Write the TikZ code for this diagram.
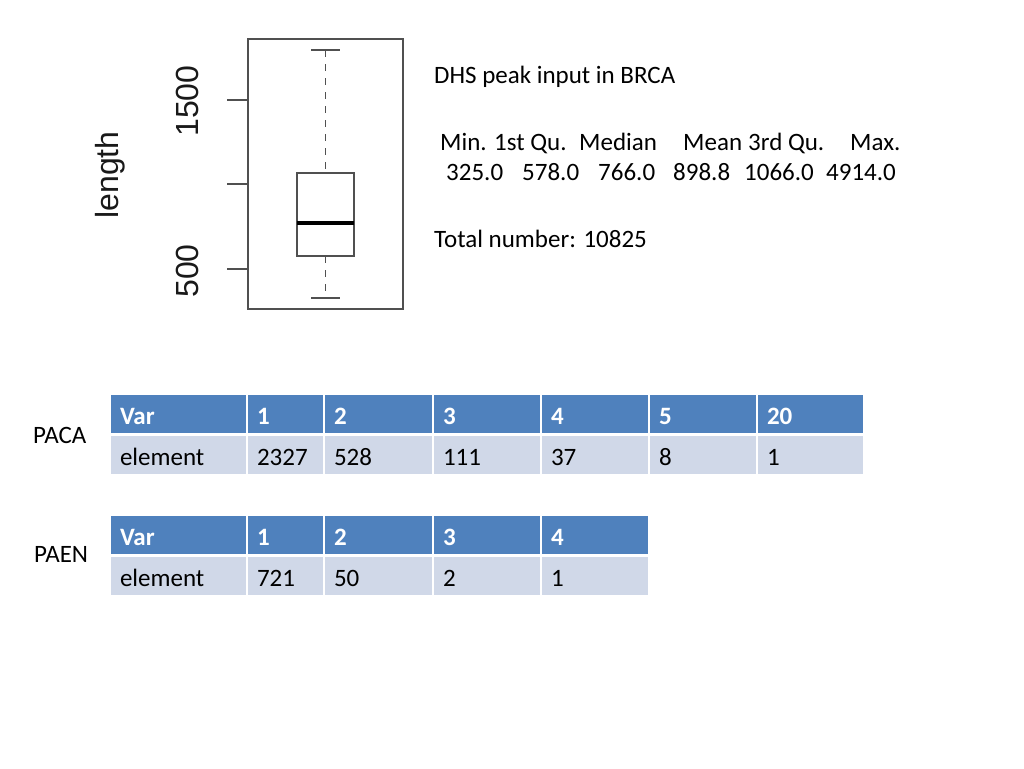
\documentclass[tikz,border=0pt]{standalone}
\usepackage{fontspec}
\setmainfont{Carlito}
\newfontfamily\plotfont{Liberation Sans}
\definecolor{headblue}{HTML}{4F81BD}
\definecolor{bodyblue}{HTML}{D0D8E8}
\definecolor{framegray}{HTML}{505050}
\tikzset{
  slidetext/.style={inner sep=0pt, anchor=base west, font=\fontsize{25}{30}\selectfont},
  plotlabel/.style={inner sep=0pt, rotate=90, font=\plotfont\fontsize{32}{36}\selectfont, text=black!90},
  cell/.style={draw=white, line width=2pt, anchor=north west, inner xsep=10pt, inner ysep=0pt,
    align=left, text height=22pt, text depth=2pt, font=\fontsize{25}{30}\selectfont},
  headcell/.style={cell, fill=headblue, text=white, font=\bfseries\fontsize{25}{30}\selectfont},
  bodycell/.style={cell, fill=bodyblue, text=black}
}
\begin{document}
\begin{tikzpicture}[x=1pt, y=-1pt]
  \useasboundingbox (0,0) rectangle (1024,768);
  % box plot
  \draw[framegray, line width=1.8pt] (248,39) rectangle (403,309);
  \draw[framegray, line width=1.5pt] (248,100) -- (248,269);
  \foreach \y in {100,184,269}
    \draw[framegray, line width=1.5pt] (227,\y) -- (248,\y);
  \node[plotlabel] (t1500) at (187,101) {1500};
  \node[plotlabel] (t500) at (187,271) {500};
  \node[plotlabel] (ylab) at (110,175) {length};
  \draw[framegray, line width=1.5pt, dash pattern=on 7pt off 7pt] (325.5,50) -- (325.5,173);
  \draw[framegray, line width=1.5pt, dash pattern=on 7pt off 7pt] (325.5,256) -- (325.5,298);
  \draw[framegray, line width=1.5pt] (311,50) -- (340,50);
  \draw[framegray, line width=1.5pt] (311,298) -- (340,298);
  \draw[framegray, line width=1.6pt] (297,173) rectangle (354,256);
  \draw[black, line width=4.5pt] (297,223) -- (354,223);
  % summary text
  \node[slidetext] (title) at (434,83) {DHS peak input in BRCA};
  \foreach \x/\t [count=\i] in {440/Min., 494/1st Qu., 579/Median, 683/Mean, 748/3rd Qu., 850/Max.}
    \node[slidetext] (stat\i) at (\x,150) {\t};
  \foreach \x/\t [count=\i] in {446/325.0, 522/578.0, 598/766.0, 673/898.8, 744/1066.0, 826/4914.0}
    \node[slidetext] (val\i) at (\x,180) {\t};
  \node[slidetext] (total) at (434,247) {Total number: 10825};
  % tables
  \node[slidetext] (paca) at (33,443) {PACA};
  \foreach \xa/\xb/\hd/\bd [count=\i] in {109/246/Var/element, 246/323/1/2327, 323/432/2/528,
      432/540/3/111, 540/648/4/37, 648/756/5/8, 756/863/20/1} {
    \pgfmathsetmacro\w{\xb-\xa}
    \pgfmathsetmacro\tw{\xb-\xa-20}
    \node[headcell, minimum width=\w pt, minimum height=40pt, text width=\tw pt] (paca-h\i) at (\xa,393) {\hd};
    \node[bodycell, minimum width=\w pt, minimum height=40pt, text width=\tw pt] (paca-b\i) at (\xa,434) {\bd};
  }
  \node[slidetext] (paen) at (34,562) {PAEN};
  \foreach \xa/\xb/\hd/\bd [count=\i] in {109/246/Var/element, 246/323/1/721, 323/432/2/50,
      432/540/3/2, 540/648/4/1} {
    \pgfmathsetmacro\w{\xb-\xa}
    \pgfmathsetmacro\tw{\xb-\xa-20}
    \node[headcell, minimum width=\w pt, minimum height=40pt, text width=\tw pt] (paen-h\i) at (\xa,514) {\hd};
    \node[bodycell, minimum width=\w pt, minimum height=40pt, text width=\tw pt] (paen-b\i) at (\xa,555) {\bd};
  }
\end{tikzpicture}
\end{document}
